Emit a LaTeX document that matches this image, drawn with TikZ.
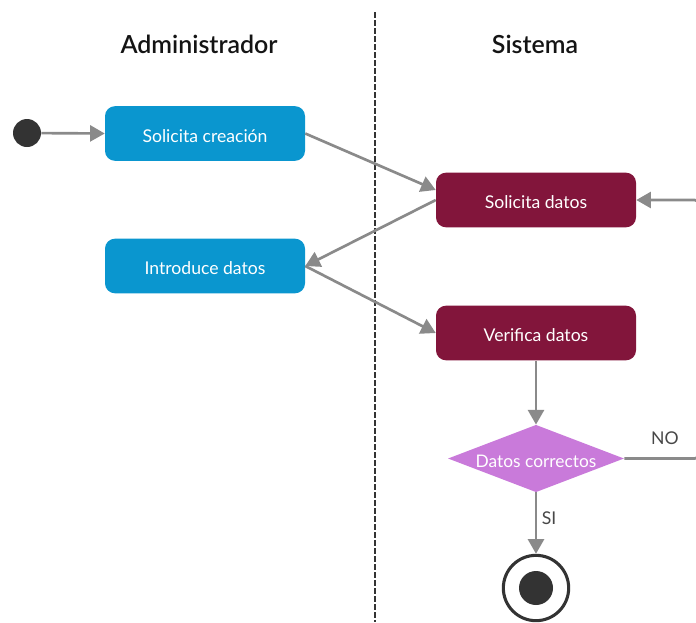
\documentclass[tikz,border=0pt]{standalone}
\usepackage{fontspec}
\setmainfont{Lato}
\newfontfamily\titlefont{Lato Semibold}
\usetikzlibrary{arrows.meta,shapes.geometric}
\definecolor{adminblue}{HTML}{0A96CF}
\definecolor{sysred}{HTML}{82153B}
\definecolor{decpink}{HTML}{C97ADA}
\definecolor{flowgray}{HTML}{8A8A8A}
\definecolor{darkdot}{HTML}{333333}
\tikzset{
  activity/.style={rounded corners=7.5pt, minimum width=150pt, minimum height=41pt,
    text=white, font=\fontsize{13.2}{15}\selectfont, inner sep=0pt,
    text height=1.3em, text depth=0pt},
  adminbox/.style={activity, fill=adminblue},
  sysbox/.style={activity, fill=sysred},
  flow/.style={draw=flowgray, line width=2pt,
    -{Triangle[length=11pt,width=12pt]}},
  lanetitle/.style={font=\titlefont\fontsize{18.7}{22}\selectfont, text=black!92},
  guard/.style={font=\fontsize{13.2}{15}\selectfont, text=black!72},
}
\begin{document}
\begin{tikzpicture}[x=0.75pt,y=-0.75pt]
\useasboundingbox (0,0) rectangle (696,622);
% swimlane separator
\draw[darkdot, line width=2pt, dash pattern=on 4.5pt off 1.5pt] (375,12) -- (375,622);
\node[lanetitle] (admin) at (199,44) {Administrador};
\node[lanetitle] (sis) at (535,44) {Sistema};
% initial node
\node[circle, fill=darkdot, minimum size=21pt, inner sep=0pt] (start) at (27,133) {};
% activities
\node[adminbox] (crea) at (205,133.5) {Solicita creación};
\node[adminbox] (intro) at (205,266) {Introduce datos};
\node[sysbox] (pide) at (536,200) {Solicita datos};
\node[sysbox] (verif) at (536,333) {Verifica datos};
% decision
\node[diamond, fill=decpink, minimum width=132pt, minimum height=50.5pt, inner sep=0pt,
  label={[text=white, font=\fontsize{13}{15}\selectfont, text height=1.3em, text depth=0pt]center:Datos correctos}] (dec) at (536,458.5) {};
% final node
\node[circle, draw=darkdot, line width=2.3pt, fill=white, minimum size=49pt, inner sep=0pt] (fin) at (536,588) {};
\node[circle, fill=darkdot, minimum size=25.5pt, inner sep=0pt] (findot) at (fin.center) {};
\coordinate (loopdown) at (700,458.5);
\coordinate (loopup) at (700,200);
% transitions
\draw[flow] (start) -- (crea.west);
\draw[flow] (crea.east) -- (pide.west |- 0,190);
\draw[flow] (pide.west) -- (intro.east);
\draw[flow] (intro.east) -- (verif.west);
\draw[flow] (verif.south) -- (dec.north);
\draw[flow] (dec.south) -- node[guard, right, pos=0.42] {SI} (fin.north);
\draw[flow, rounded corners=4pt] (dec.east) -- (loopdown) -- (loopup) -- (pide.east);
\node[guard] (no) at (665,438) {NO};
\end{tikzpicture}
\end{document}
